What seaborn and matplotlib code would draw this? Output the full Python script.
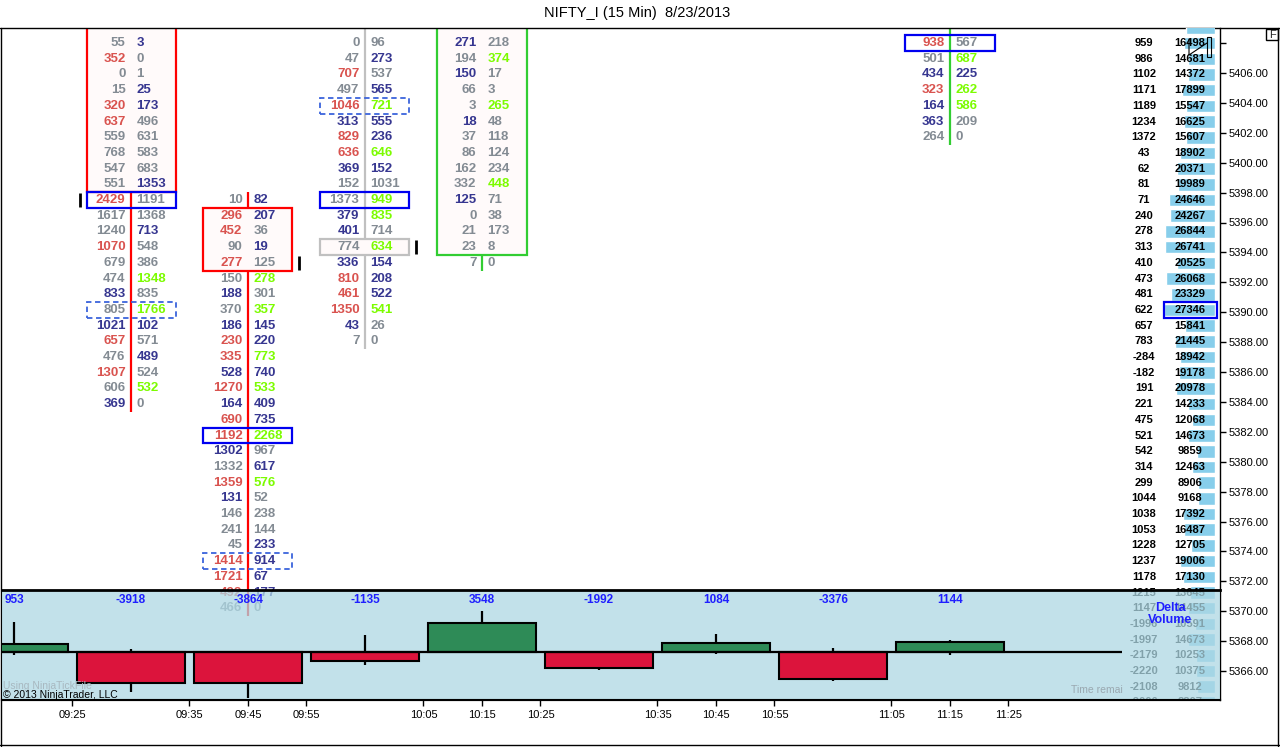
import numpy as np
import pandas as pd
import matplotlib
matplotlib.use("Agg")
import matplotlib.pyplot as plt
import matplotlib.transforms as mtransforms
from matplotlib.patches import Rectangle
from matplotlib.lines import Line2D
import seaborn as sns

# Footprint chart of NIFTY_I, 15 min bars, 8/23/2013

# price rows of the footprint grid (row 0 is the top visible row)
ROW0_PRICE = 5408.0
ROW_STEP = 1.05

# footprint columns: bid x ask per row, codes: r=red, n=navy, g=green, .=plain
bid_1 = [55, 352, 0, 15, 320, 637, 559, 768, 547, 551, 2429, 1617, 1240, 1070,
         679, 474, 833, 805, 1021, 657, 476, 1307, 606, 369]
ask_1 = [3, 0, 1, 25, 173, 496, 631, 583, 683, 1353, 1191, 1368, 713, 548,
         386, 1348, 835, 1766, 102, 571, 489, 524, 532, 0]
bid_1_code = ".r..rr....r..r..n.nr.r.n"
ask_1_code = "n..nn....n..n..g.gn.n.g."

bid_2 = [10, 296, 452, 90, 277, 150, 188, 370, 186, 230, 335, 528, 1270, 164,
         690, 1192, 1302, 1332, 1359, 131, 146, 241, 45, 1414, 1721, 492, 466]
ask_2 = [82, 207, 36, 19, 125, 278, 301, 357, 145, 220, 773, 740, 533, 409,
         735, 2268, 967, 617, 576, 52, 238, 144, 233, 914, 67, 177, 0]
bid_2_code = ".rr.r.n.nrrnrnrrn.rn...rrr."
ask_2_code = "nn.n.g.gnngngnng.ng...nnnn."

bid_3 = [0, 47, 707, 497, 1046, 313, 829, 636, 369, 152, 1373, 379, 401, 774,
         336, 810, 461, 1350, 43, 7]
ask_3 = [96, 273, 537, 565, 721, 555, 236, 646, 152, 1031, 949, 835, 714, 634,
         154, 208, 522, 541, 26, 0]
bid_3_code = "..r.rnrrn..nn.nrrrn."
ask_3_code = ".n.ngnngn.gg.gnnng.."

bid_4 = [271, 194, 150, 66, 3, 18, 37, 86, 162, 332, 125, 0, 21, 23, 7]
ask_4 = [218, 374, 17, 3, 265, 48, 118, 124, 234, 448, 71, 38, 173, 8, 0]
bid_4_code = "n.n..n....n...."
ask_4_code = ".g..g....g....."

bid_8 = [938, 501, 434, 323, 164, 363, 264]
ask_8 = [567, 687, 225, 262, 586, 209, 0]
bid_8_code = "r.nrnn."
ask_8_code = ".gngg.."

fp_bars = [1, 2, 3, 4, 8]
fp_first_row = [0, 10, 0, 0, 0]
fp_bids = [bid_1, bid_2, bid_3, bid_4, bid_8]
fp_asks = [ask_1, ask_2, ask_3, ask_4, ask_8]
fp_bid_codes = [bid_1_code, bid_2_code, bid_3_code, bid_4_code, bid_8_code]
fp_ask_codes = [ask_1_code, ask_2_code, ask_3_code, ask_4_code, ask_8_code]

# candles in row units (negative rows are above the visible range)
candle_high = [-6, 10, -3, -8, -10]
candle_open = [-4, 11, 13, 13, -3]
candle_close = [9, 14, 13, -5, -8]
candle_low = [23, 36, 19, 14, 6]

poc_bar = [1, 2, 3, 8]
poc_row = [10, 25, 10, 0]
va_bar = [1, 2, 3]
va_row = [17, 33, 4]
mark_bar = [1, 2, 3]
mark_row = [10, 14, 13]
mark_side = [-1, 1, 1]

# volume profile on the right (first row is cut at the top)
prof_first_row = -1
prof_delta = [None, 959, 986, 1102, 1171, 1189, 1234, 1372, 43, 62, 81, 71, 240,
              278, 313, 410, 473, 481, 622, 657, 783, -284, -182, 191, 221, 475,
              521, 542, 314, 299, 1044, 1038, 1053, 1228, 1237, 1178, 1215, 1147,
              -1996, -1997, -2179, -2220, -2108, -2006]
prof_volume = [15500, 16498, 14681, 14372, 17899, 15547, 16625, 15607, 18902,
               20371, 19989, 24646, 24267, 26844, 26741, 20525, 26068, 23329,
               27346, 15841, 21445, 18942, 19178, 20978, 14233, 12068, 14673,
               9859, 12463, 8906, 9168, 17392, 16487, 12705, 19006, 17130,
               13645, 14455, 10591, 14673, 10253, 10375, 9812, 8807]
prof_poc_row = 17

# delta panel
bar_pos = [0, 1, 2, 3, 4, 5, 6, 7, 8]
bar_delta = [953, -3918, -3864, -1135, 3548, -1992, 1084, -3376, 1144]
bar_high = [3690, 330, 0, 2050, 4980, 0, 2180, 490, 1440]
bar_low = [-400, -4920, -5760, -1640, 0, -2250, -280, -3570, -400]

time_pos = [0.5, 1.5, 2, 2.5, 3.5, 4, 4.5, 5.5, 6, 6.5, 7.5, 8, 8.5]
time_labels = ["09:25", "09:35", "09:45", "09:55", "10:05", "10:15", "10:25",
               "10:35", "10:45", "10:55", "11:05", "11:15", "11:25"]
price_ticks = list(range(5366, 5409, 2))


def row_price(r):
    return ROW0_PRICE - ROW_STEP * r


W, H = 1280, 747


def fx(px):
    return px / W


def fy(py):
    return 1 - py / H


sns.set_theme(style="white")
plt.rcParams["font.family"] = ["Liberation Sans", "DejaVu Sans"]

fig = plt.figure(figsize=(W / 100, H / 100), dpi=100)
fig.patch.set_facecolor("white")

ax = fig.add_axes([fx(2), fy(700), 1218 / W, 672 / H])
axp = fig.add_axes([fx(1122), fy(700), 93 / W, 672 / H], sharey=ax)
axd = fig.add_axes([fx(2), fy(700), 1218 / W, 110 / H])
ax.set_zorder(1)
axp.set_zorder(2)
axd.set_zorder(3)

XLIM = ((2 - 14) / 117, (1220 - 14) / 117)
YLIM = (5406 - 627 / 14.95, 5406 + 45 / 14.95)

TXT = {"r": "#d9534f", "n": "#363690", "g": "#7cfc00", ".": "#838b93"}
LINE = {"down": "#ff0000", "up": "#32cd32", "flat": "#c0c0c0"}
BOX_HW = 44.5 / 117
GAP = 5.5 / 117

# footprint columns
for k, bar in enumerate(fp_bars):
    o, c = candle_open[k], candle_close[k]
    kind = "down" if c > o else ("up" if c < o else "flat")
    ax.vlines(bar, row_price(candle_low[k] + 0.5), row_price(candle_high[k] - 0.5),
              color=LINE[kind], lw=1.6, zorder=1)
    y_bot = row_price(max(o, c) + 0.5)
    y_top = row_price(min(o, c) - 0.5)
    ax.add_patch(Rectangle((bar - BOX_HW, y_bot), 2 * BOX_HW, y_top - y_bot,
                           fc="#fffafa", ec=LINE[kind], lw=1.6, zorder=2))
    r0 = fp_first_row[k]
    for j, (b, a) in enumerate(zip(fp_bids[k], fp_asks[k])):
        y = row_price(r0 + j)
        ax.text(bar - GAP, y, str(b), ha="right", va="center", fontsize=9.5,
                fontweight="bold", color=TXT[fp_bid_codes[k][j]], zorder=5, clip_on=True)
        ax.text(bar + GAP, y, str(a), ha="left", va="center", fontsize=9.5,
                fontweight="bold", color=TXT[fp_ask_codes[k][j]], zorder=5, clip_on=True)

half_row = 0.52
for b, r in zip(poc_bar, poc_row):
    ax.add_patch(Rectangle((b - BOX_HW, row_price(r) - half_row), 2 * BOX_HW, 2 * half_row,
                           fc="none", ec="#0000f0", lw=1.6, zorder=4))
for b, r in zip(va_bar, va_row):
    ax.add_patch(Rectangle((b - BOX_HW, row_price(r) - half_row), 2 * BOX_HW, 2 * half_row,
                           fc="none", ec="#3c64dc", lw=1.3, ls=(0, (3, 2)), zorder=4))
for b, r, s in zip(mark_bar, mark_row, mark_side):
    ax.vlines(b + s * 50.5 / 117, row_price(r) - 0.45, row_price(r) + 0.45,
              color="black", lw=2, zorder=3)

ax.set_xlim(*XLIM)
ax.set_xticks(time_pos)
ax.set_xticklabels(time_labels)
ax.set_yticks(price_ticks)
ax.set_yticklabels(["" if p == 5408 else f"{p:.2f}" for p in price_ticks])
ax.yaxis.tick_right()
ax.tick_params(axis="y", right=True, left=False, labelright=True, labelleft=False,
               direction="out", length=4.5, width=1, pad=1.5, labelsize=8,
               colors="black")
ax.tick_params(axis="x", bottom=True, direction="out", length=4, width=1, pad=3,
               labelsize=8, colors="black")
for side in ["top", "left"]:
    ax.spines[side].set_visible(False)
ax.spines["right"].set_color("black")
ax.spines["right"].set_linewidth(1)
ax.spines["bottom"].set_color("black")
ax.spines["bottom"].set_linewidth(1.5)
ax.set_facecolor("white")

# volume profile
prof_df = pd.DataFrame({"price": [row_price(prof_first_row + i) for i in range(len(prof_volume))],
                        "volume": prof_volume})
sns.barplot(data=prof_df, x="volume", y="price", orient="y", native_scale=True,
            width=0.8, color="#87ceeb", saturation=1, errorbar=None, ax=axp)
axp.set_xlim(max(prof_volume) * 93 / 51, 0)
axp.set_axis_off()
ptr = mtransforms.blended_transform_factory(axp.transAxes, axp.transData)
for i, (d, v) in enumerate(zip(prof_delta, prof_volume)):
    if d is None:
        continue
    y = row_price(prof_first_row + i)
    axp.text(0.2366, y, str(d), transform=ptr, ha="center", va="center", fontsize=8,
             fontweight="bold", color="black", clip_on=True)
    axp.text(0.731, y, str(v), transform=ptr, ha="center", va="center", fontsize=8,
             fontweight="bold", color="black", clip_on=True)
axp.add_patch(Rectangle((0.4516, row_price(prof_poc_row) - 0.535), 0.57, 1.07,
                        transform=ptr, fc="none", ec="#0000f0", lw=1.6, clip_on=False))

# delta panel
delta_df = pd.DataFrame({"bar": bar_pos, "delta": bar_delta})
delta_df["side"] = np.where(delta_df["delta"] > 0, "up", "down")
sns.barplot(data=delta_df, x="bar", y="delta", hue="side",
            palette={"up": "#2e8b57", "down": "#dc143c"}, native_scale=True,
            width=0.915, saturation=1, edgecolor="black", linewidth=1.5,
            errorbar=None, dodge=False, legend=False, ax=axd)
axd.vlines(bar_pos, bar_low, bar_high, color="black", lw=1.6, zorder=0.5)
axd.hlines(0, XLIM[0], (1122 - 14) / 117, color="black", lw=1.6, zorder=3)
axd.set_xlim(*XLIM)
axd.set_ylim(-5965, 7565)
axd.set_xticks([])
axd.set_yticks([])
axd.set_xlabel("")
axd.set_ylabel("")
axd.set_facecolor("#aed8e4")
axd.patch.set_alpha(0.75)
for side in ["left", "right"]:
    axd.spines[side].set_visible(False)
axd.spines["top"].set_color("black")
axd.spines["top"].set_linewidth(2)
axd.spines["bottom"].set_color("black")
axd.spines["bottom"].set_linewidth(1.5)

dtr = mtransforms.blended_transform_factory(axd.transData, axd.transAxes)
for p, d in zip(bar_pos, bar_delta):
    axd.text(p, 0.909, str(d), transform=dtr, ha="center", va="center",
             fontsize=8.5, fontweight="bold", color="#1f1fff")
axd.text(0.959, 0.78, "Delta\nVolume", transform=axd.transAxes, ha="center",
         va="center", fontsize=9, fontweight="bold", color="#1f1fff", linespacing=1.05)
axd.text(0.001, 0.125, "Using NinjaTickFile", transform=axd.transAxes, ha="left",
         va="center", fontsize=7.5, color="#a8b8c0")
axd.text(0.001, 0.045, "\u00a9 2013 NinjaTrader, LLC", transform=axd.transAxes,
         ha="left", va="center", fontsize=7.5, color="black")
axd.text((1071 - 2) / 1218, 0.09, "Time remai", transform=axd.transAxes, ha="left",
         va="center", fontsize=7.5, color="#9aa8b0")

ax.set_ylim(*YLIM)

# title and outer frame
fig.text(fx(637), fy(13), "NIFTY_I (15 Min)  8/23/2013", ha="center", va="center",
         fontsize=10.5, color="black")
for xs, ys in [([0, W], [28, 28]), ([1, 1], [28, 746]), ([1278, 1278], [28, 746]),
               ([0, W], [745, 745])]:
    fig.add_artist(Line2D([fx(v) for v in xs], [fy(v) for v in ys],
                          transform=fig.transFigure, color="black", lw=1))
fig.add_artist(Rectangle((fx(1266), fy(40)), 12 / W, 11 / H, transform=fig.transFigure,
                         fc="white", ec="black", lw=1))
fig.text(fx(1272), fy(34.5), "F", ha="center", va="center", fontsize=8)
fig.add_artist(Rectangle((fx(1206.5), fy(57)), 4 / W, 20 / H, transform=fig.transFigure,
                         fc="none", ec="black", lw=0.8, zorder=10))
fig.add_artist(Line2D([fx(1189), fx(1189), fx(1207)], [fy(39), fy(55), fy(43)],
                      transform=fig.transFigure, color="black", lw=0.8, zorder=10))

fig.savefig("out.png", dpi=100)
